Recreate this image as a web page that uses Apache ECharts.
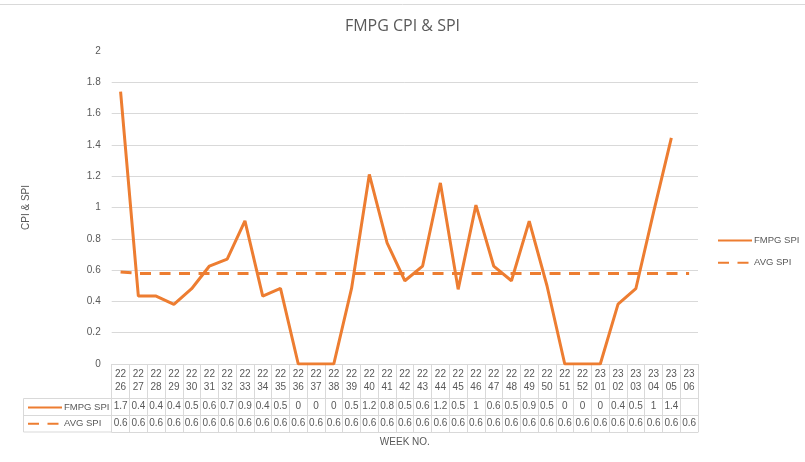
<!DOCTYPE html>
<html><head><meta charset="utf-8">
<script src="https://cdn.jsdelivr.net/npm/echarts@6/dist/echarts.min.js"></script>
<style>html,body{margin:0;padding:0;background:#fff}#c{width:805px;height:462px}</style>
</head><body><div id="c"></div>
<script>
const weeks = ['2226','2227','2228','2229','2230','2231','2232','2233','2234','2235','2236','2237','2238','2239','2240','2241','2242','2243','2244','2245','2246','2247','2248','2249','2250','2251','2252','2301','2302','2303','2304','2305','2306'];
const fmpgSpi = [1.74,0.434,0.434,0.381,0.481,0.626,0.67,0.915,0.434,0.483,0,0,0,0.483,1.211,0.774,0.532,0.626,1.157,0.477,1.015,0.626,0.532,0.913,0.5,0,0,0,0.383,0.481,0.97,1.445,null];
const avgSpi = [0.588,0.579,0.579,0.579,0.579,0.579,0.579,0.579,0.579,0.579,0.579,0.579,0.579,0.579,0.579,0.579,0.579,0.579,0.579,0.579,0.579,0.579,0.579,0.579,0.579,0.579,0.579,0.579,0.579,0.579,0.579,0.579,0.579];
const seriesNames = ['FMPG SPI','AVG SPI'];
const chartTitle = 'FMPG CPI & SPI';
const yName = 'CPI & SPI';
const xName = 'WEEK NO.';

const ORANGE = '#ED7D31', TXT = '#595959', GRID = '#d9d9d9';
const F = 'Liberation Sans';
const fmt = v => v == null ? '' : String(Math.round(v * 10) / 10);

const chart = echarts.init(document.getElementById('c'), null, {renderer: 'canvas'});
const baseX = {
  type: 'category', data: weeks, gridIndex: 0, position: 'bottom',
  axisTick: {show: false}, splitLine: {show: false},
  axisLine: {show: true, lineStyle: {color: GRID, width: 1}}
};
const hiddenSymbol = {color: 'rgba(0,0,0,0)', borderColor: 'rgba(0,0,0,0)', borderWidth: 0, opacity: 0};
chart.setOption({
  animation: false,
  textStyle: {fontFamily: F},
  title: {text: chartTitle, left: 'center', top: 13,
    textStyle: {fontFamily: 'Open Sans', fontSize: 16, fontWeight: 'normal', color: TXT}},
  grid: {left: 111.7, right: 107, top: 51, bottom: 98},
  legend: [
    {orient: 'vertical', left: 717, top: 235, padding: 0, itemWidth: 34, itemHeight: 14, itemGap: 11,
      data: seriesNames, selectedMode: false, itemStyle: hiddenSymbol,
      textStyle: {fontFamily: F, fontSize: 9.5, color: TXT, padding: [0, 0, 0, -3]}},
    {orient: 'vertical', left: 27, top: 402, padding: 0, itemWidth: 34, itemHeight: 14, itemGap: 5,
      data: seriesNames, selectedMode: false, itemStyle: hiddenSymbol,
      textStyle: {fontFamily: F, fontSize: 9.5, color: TXT, padding: [0, 0, 0, -3]}}
  ],
  xAxis: [
    Object.assign({}, baseX, {
      axisTick: {show: true, inside: false, length: 68, lineStyle: {color: GRID}},
      axisLabel: {interval: 0, margin: 4, fontSize: 10, color: TXT, lineHeight: 13,
        formatter: w => w.slice(0, 2) + '\n' + w.slice(2)}
    }),
    Object.assign({}, baseX, {offset: 34,
      axisLabel: {interval: 0, margin: 2, fontSize: 10, color: TXT, lineHeight: 12,
        formatter: (w, i) => fmt(fmpgSpi[i])}
    }),
    Object.assign({}, baseX, {offset: 51,
      axisLabel: {interval: 0, margin: 2, fontSize: 10, color: TXT, lineHeight: 12,
        formatter: (w, i) => fmt(avgSpi[i])}
    }),
    Object.assign({}, baseX, {offset: 68,
      axisLabel: {show: false},
      name: xName, nameLocation: 'middle', nameGap: 5,
      nameTextStyle: {fontFamily: F, fontSize: 10, color: TXT}
    })
  ],
  yAxis: {
    type: 'value', min: 0, max: 2, interval: 0.2,
    axisLine: {show: false}, axisTick: {show: false},
    axisLabel: {fontSize: 10, color: TXT, margin: 11, formatter: v => String(Math.round(v * 10) / 10)},
    splitLine: {show: true, showMaxLine: false, lineStyle: {color: GRID, width: 1}},
    name: yName, nameLocation: 'middle', nameGap: 80, nameRotate: 90,
    nameTextStyle: {fontFamily: F, fontSize: 10, color: TXT}
  },
  series: [
    {name: seriesNames[0], type: 'line', data: fmpgSpi, symbol: 'none', connectNulls: false,
      lineStyle: {color: ORANGE, width: 3}, itemStyle: {color: ORANGE}, z: 3},
    {name: seriesNames[1], type: 'line', data: avgSpi, symbol: 'none',
      lineStyle: {color: ORANGE, width: 3, type: [11, 8.5]}, itemStyle: {color: ORANGE}, z: 2}
  ],
  graphic: [
    {type: 'line', shape: {x1: 0, y1: 4.5, x2: 805, y2: 4.5}, style: {stroke: GRID, lineWidth: 1}, silent: true},
    {type: 'rect', shape: {x: 23.5, y: 398.5, width: 88, height: 33.5}, style: {fill: 'none', stroke: GRID, lineWidth: 1}, silent: true},
    {type: 'line', shape: {x1: 23.5, y1: 415.5, x2: 111.7, y2: 415.5}, style: {stroke: GRID, lineWidth: 1}, silent: true}
  ]
});
</script></body></html>
